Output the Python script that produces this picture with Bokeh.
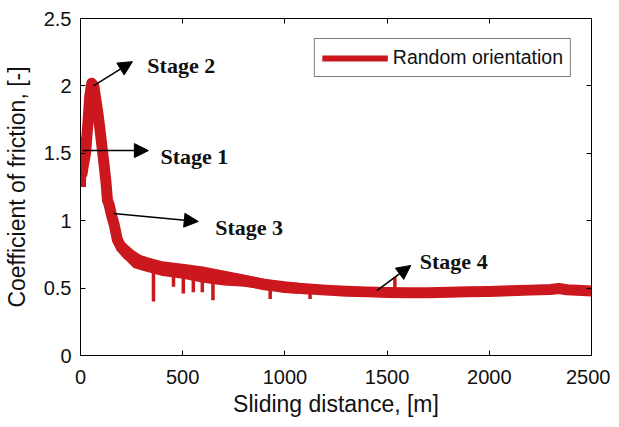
from bokeh.plotting import figure
from bokeh.models import (Arrow, NormalHead, Label, LinearAxis, FixedTicker,
                          Legend, LegendItem, Range1d)
from bokeh.embed import file_html
from bokeh.resources import INLINE

# ---- data ----
dist = [0, 3, 8, 15, 25, 35, 45, 55, 65, 75, 85, 95, 105, 115, 125, 132, 140,
        150, 165, 180, 200, 230, 260, 300, 350, 400, 450, 500, 550, 600, 650,
        700, 750, 800, 850, 900, 950, 1000, 1100, 1200, 1300, 1400, 1500, 1600,
        1700, 1800, 1900, 2000, 2100, 2200, 2300, 2340, 2380, 2500]
cof = [1.25, 1.58, 1.35, 1.42, 1.50, 1.70, 1.92, 2.02, 2.00, 1.90, 1.80, 1.68,
       1.55, 1.42, 1.28, 1.15, 1.12, 1.05, 0.97, 0.86, 0.80, 0.75, 0.72, 0.70,
       0.67, 0.645, 0.635, 0.625, 0.615, 0.60, 0.59, 0.58, 0.57, 0.555, 0.54,
       0.525, 0.515, 0.505, 0.495, 0.485, 0.477, 0.472, 0.468, 0.466, 0.466,
       0.47, 0.472, 0.475, 0.48, 0.485, 0.49, 0.497, 0.488, 0.478]

# noisy band (upper / lower envelope) in the running-in region
band_x = [200, 260, 300, 350, 400, 500, 600, 700, 800, 900, 1000, 1100]
band_hi = [0.86, 0.78, 0.74, 0.72, 0.70, 0.68, 0.66, 0.63, 0.60, 0.57, 0.55, 0.535]
band_lo = [0.74, 0.65, 0.63, 0.61, 0.59, 0.57, 0.54, 0.52, 0.51, 0.49, 0.465, 0.455]

# spikes: position, base value, tip value
spike_x = [357, 455, 503, 552, 596, 648, 928, 1123, 1538]
spike_base = [0.62, 0.60, 0.60, 0.59, 0.58, 0.57, 0.50, 0.48, 0.47]
spike_tip = [0.40, 0.51, 0.46, 0.47, 0.47, 0.41, 0.42, 0.42, 0.58]

x_ticks = [0, 500, 1000, 1500, 2000, 2500]
x_tick_labels = ["0", "500", "1000", "1500", "2000", "2500"]
y_ticks = [0, 0.5, 1, 1.5, 2, 2.5]
y_tick_labels = ["0", "0.5", "1", "1.5", "2", "2.5"]

series_name = "Random orientation"
x_title = "Sliding distance, [m]"
y_title = "Coefficient of friction, [-]"

# annotations: text, arrow start (x, y), arrow end (x, y), label anchor (x, y)
stage_text = ["Stage 1", "Stage 2", "Stage 3", "Stage 4"]
arrow_x0 = [10, 63, 161, 1450]
arrow_y0 = [1.52, 2.00, 1.053, 0.482]
arrow_x1 = [332, 254, 576, 1616]
arrow_y1 = [1.52, 2.18, 0.994, 0.668]
label_x = [391, 327, 659, 1660]
label_y = [1.476, 2.15, 0.95, 0.697]

RED = "#CB181E"

p = figure(width=610, height=421,
           x_range=Range1d(0, 2500), y_range=Range1d(0, 2.5),
           output_backend="svg", toolbar_location=None,
           min_border_left=74, min_border_top=18,
           min_border_right=19, min_border_bottom=66)
p.background_fill_color = "white"
p.border_fill_color = "white"
p.outline_line_color = "black"
p.outline_line_width = 1
p.grid.visible = False

# band + spikes + main curve
p.varea(x=band_x, y1=band_lo, y2=band_hi, fill_color=RED)
p.segment(x0=spike_x, y0=spike_base, x1=spike_x, y1=spike_tip,
          line_color=RED, line_width=3.5)
p.line(dist, cof, line_color=RED, line_width=11, line_join="round")
leg_r = p.line(dist, cof, line_color=RED, line_width=6, line_join="round")

# axes styling
for ax in (p.xaxis[0], p.yaxis[0]):
    ax.axis_line_color = "black"
    ax.major_tick_line_color = "black"
    ax.major_tick_in = 5
    ax.major_tick_out = 0
    ax.minor_tick_line_color = None
    ax.major_label_text_font = "Liberation Sans"
    ax.major_label_text_font_size = "20px"
    ax.major_label_text_color = "#111111"
    ax.axis_label_text_font = "Liberation Sans"
    ax.axis_label_text_font_size = "23px"
    ax.axis_label_text_font_style = "normal"
    ax.axis_label_text_color = "#111111"

p.xaxis.ticker = FixedTicker(ticks=x_ticks)
p.xaxis.major_label_overrides = dict(zip(x_ticks, x_tick_labels))
p.xaxis.axis_label = x_title
p.xaxis.major_label_standoff = 14
p.xaxis.axis_label_standoff = 4

p.yaxis.ticker = FixedTicker(ticks=y_ticks)
p.yaxis.major_label_overrides = {t: l for t, l in zip(y_ticks, y_tick_labels)}
p.yaxis.axis_label = y_title
p.yaxis.major_label_standoff = 9
p.yaxis.axis_label_standoff = 11

# mirrored tick axes (top and right)
top_ax = LinearAxis(ticker=FixedTicker(ticks=x_ticks[1:-1]),
                    major_label_overrides={t: "" for t in x_ticks},
                    major_tick_in=5, major_tick_out=0,
                    minor_tick_line_color=None, major_label_standoff=0)
right_ax = LinearAxis(ticker=FixedTicker(ticks=y_ticks[1:-1]),
                      major_label_overrides={t: "" for t in y_ticks},
                      major_tick_in=5, major_tick_out=0,
                      minor_tick_line_color=None, major_label_standoff=0)
p.add_layout(top_ax, "above")
p.add_layout(right_ax, "right")

# arrows and stage labels
for i in range(len(stage_text)):
    p.add_layout(Arrow(end=NormalHead(size=14, fill_color="black",
                                      line_color="black"),
                       x_start=arrow_x0[i], y_start=arrow_y0[i],
                       x_end=arrow_x1[i], y_end=arrow_y1[i],
                       line_color="black", line_width=1.5))
    p.add_layout(Label(x=label_x[i], y=label_y[i], text=stage_text[i],
                       text_font="Liberation Serif", text_font_style="bold",
                       text_font_size="22px", text_baseline="middle",
                       text_color="#111111"))

legend = Legend(items=[LegendItem(label=series_name, renderers=[leg_r])],
                location="top_right", margin=20, padding=7, spacing=0,
                glyph_width=66, glyph_height=20, label_height=20,
                label_standoff=5,
                label_text_font="Liberation Sans", label_text_font_size="19.5px",
                label_text_color="#111111",
                border_line_color="black", border_line_width=1,
                background_fill_alpha=1)
p.add_layout(legend)

open("out.html", "w").write(file_html(p, INLINE))
